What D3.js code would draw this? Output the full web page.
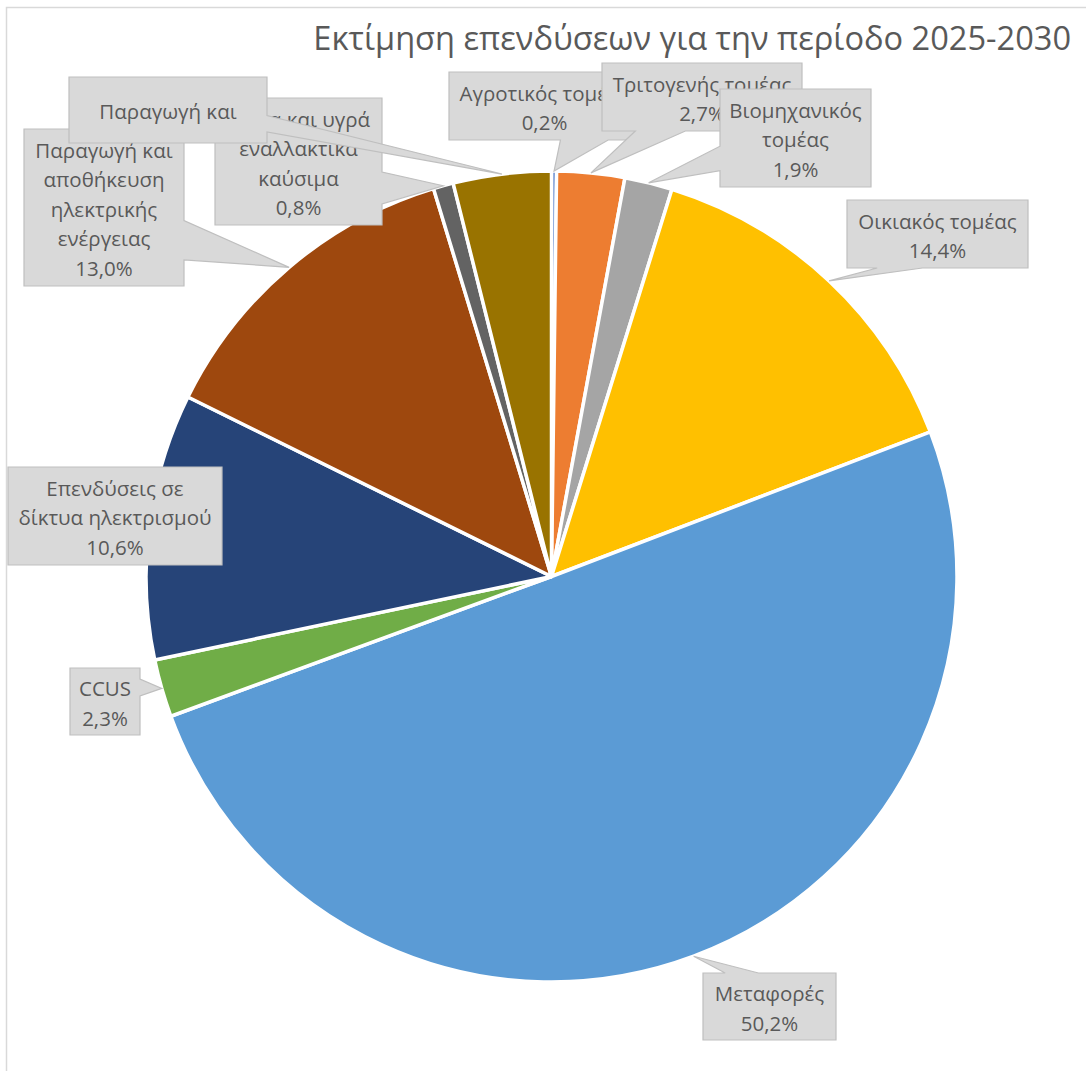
<!DOCTYPE html>
<html>
<head>
<meta charset="utf-8">
<script src="https://cdn.jsdelivr.net/npm/d3@7"></script>
<style>
  body { margin: 0; background: #fff; }
  text { font-family: "Open Sans", sans-serif; fill: #595959; }
</style>
</head>
<body>
<script>
var width = 1086,
  height = 1071;

var titleText = "Εκτίμηση επενδύσεων για την περίοδο 2025-2030";

var categories = [
  "Αγροτικός τομέας",
  "Τριτογενής τομέας",
  "Βιομηχανικός τομέας",
  "Οικιακός τομέας",
  "Μεταφορές",
  "CCUS",
  "Επενδύσεις σε δίκτυα ηλεκτρισμού",
  "Παραγωγή και αποθήκευση ηλεκτρικής ενέργειας",
  "Αέρια και υγρά εναλλακτικά καύσιμα",
  "Παραγωγή και"
];
var values = [0.2, 2.7, 1.9, 14.4, 50.2, 2.3, 10.6, 13.0, 0.8, 3.9];
var colors = ["#4472c4", "#ed7d31", "#a5a5a5", "#ffc000", "#5b9bd5", "#70ad47", "#264478", "#9e480e", "#636363", "#997300"];

// wrapped label text, as in the sheet
var labelLines = [
  ["Αγροτικός τομέας"],
  ["Τριτογενής τομέας"],
  ["Βιομηχανικός", "τομέας"],
  ["Οικιακός τομέας"],
  ["Μεταφορές"],
  ["CCUS"],
  ["Επενδύσεις σε", "δίκτυα ηλεκτρισμού"],
  ["Παραγωγή και", "αποθήκευση", "ηλεκτρικής", "ενέργειας"],
  ["Αέρια και υγρά", "εναλλακτικά", "καύσιμα"],
  ["Παραγωγή και"]
];
var showPercent = [true, true, true, true, true, true, true, true, true, false];

// label boxes were dragged by hand in the original: [x, y, w, h]
var labelBoxes = [
  [449, 72, 191, 68],
  [602, 63, 200, 68],
  [720, 89, 151, 98],
  [847, 200, 181, 68],
  [703, 973, 133, 67],
  [70, 668, 70, 67],
  [8, 467, 214, 98],
  [24, 129, 160, 157],
  [215, 98, 167, 127],
  [69, 77, 198, 66]
];

var cx = 551.5,
  cy = 576.5,
  radius = 405.5,
  lineStep = 29.5;

var svg = d3.select("body")
  .append("svg")
  .attr("width", width)
  .attr("height", height);

// chart area border (only left/top fall inside the picture)
svg.append("rect")
  .attr("x", 6.5)
  .attr("y", 7.5)
  .attr("width", 1300)
  .attr("height", 1300)
  .attr("fill", "none")
  .attr("stroke", "#d9d9d9")
  .attr("stroke-width", 1.5);

var title = svg.append("text")
  .attr("x", 1071)
  .attr("y", 50)
  .attr("text-anchor", "end")
  .attr("font-size", 34)
  .text(titleText);

// shrink the title until it spans the same width as in the original
var tw = title.node().getComputedTextLength();
if (tw > 758) title.attr("font-size", 34 * 758 / tw);

var pie = d3.pie().sort(null).value(function (d) { return d; });
var arcs = pie(values);

var arc = d3.arc().innerRadius(0).outerRadius(radius);

var g = svg.append("g")
  .attr("transform", "translate(" + cx + "," + cy + ")");

g.selectAll("path")
  .data(arcs)
  .enter()
  .append("path")
  .attr("d", arc)
  .attr("fill", function (d, i) { return colors[i]; })
  .attr("stroke", "#fff")
  .attr("stroke-width", 3.5)
  .attr("stroke-linejoin", "round");

var fmt = d3.format(".1f");
function pct(v) { return fmt(v).replace(".", ",") + "%"; }

// callout outline: box with a wedge to the tip, on the side facing the tip
function calloutPath(b, tip) {
  var x0 = b[0], y0 = b[1], x1 = b[0] + b[2], y1 = b[1] + b[3];
  var mx = (x0 + x1) / 2, my = (y0 + y1) / 2;
  var inside = tip[0] >= x0 && tip[0] <= x1 && tip[1] >= y0 && tip[1] <= y1;
  var pts = [];
  if (inside) {
    pts = [[x0, y0], [x1, y0], [x1, y1], [x0, y1]];
  } else {
    var nx = (tip[0] - mx) / (b[2] / 2),
      ny = (tip[1] - my) / (b[3] / 2);
    var side;
    if (Math.abs(nx) > Math.abs(ny)) side = nx > 0 ? "right" : "left";
    else side = ny > 0 ? "bottom" : "top";
    var f;
    if (side == "top" || side == "bottom") f = tip[0] < mx ? [1 / 6, 5 / 12] : [7 / 12, 5 / 6];
    else f = tip[1] < my ? [1 / 6, 5 / 12] : [7 / 12, 5 / 6];
    pts.push([x0, y0]);
    if (side == "top") pts.push([x0 + b[2] * f[0], y0], tip, [x0 + b[2] * f[1], y0]);
    pts.push([x1, y0]);
    if (side == "right") pts.push([x1, y0 + b[3] * f[0]], tip, [x1, y0 + b[3] * f[1]]);
    pts.push([x1, y1]);
    if (side == "bottom") pts.push([x0 + b[2] * f[1], y1], tip, [x0 + b[2] * f[0], y1]);
    pts.push([x0, y1]);
    if (side == "left") pts.push([x0, y0 + b[3] * f[1]], tip, [x0, y0 + b[3] * f[0]]);
  }
  return "M" + pts.map(function (p) { return p[0] + "," + p[1]; }).join("L") + "Z";
}

var labels = svg.append("g");

arcs.forEach(function (d, i) {
  var a = (d.startAngle + d.endAngle) / 2;
  var tip = [cx + radius * Math.sin(a), cy - radius * Math.cos(a)];
  var b = labelBoxes[i];
  var lab = labels.append("g");

  lab.append("path")
    .attr("d", calloutPath(b, tip))
    .attr("fill", "#d9d9d9")
    .attr("stroke", "#bfbfbf")
    .attr("stroke-width", 1.2)
    .attr("stroke-linejoin", "miter");

  var lines = labelLines[i].slice();
  if (showPercent[i]) lines.push(pct(values[i]));
  var mid = b[1] + b[3] / 2 + 2;
  var first = mid - (lines.length - 1) * lineStep / 2;

  lab.selectAll("text")
    .data(lines)
    .enter()
    .append("text")
    .attr("x", b[0] + b[2] / 2)
    .attr("y", function (t, j) { return first + j * lineStep; })
    .attr("dy", "0.36em")
    .attr("text-anchor", "middle")
    .attr("font-size", 20.5)
    .text(function (t) { return t; });
});
</script>
</body>
</html>
